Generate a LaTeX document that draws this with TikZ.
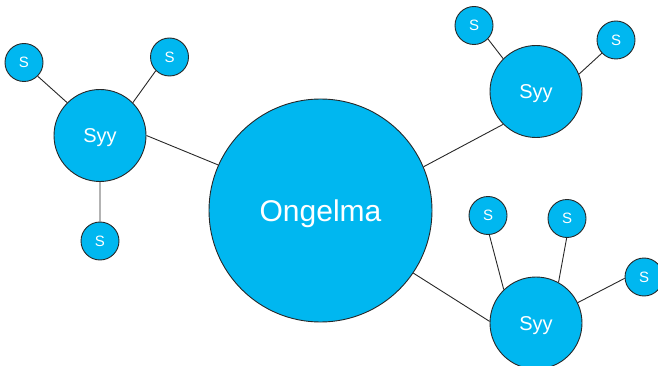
\documentclass[tikz,border=0pt]{standalone}
\usepackage{fontspec}
\setmainfont{Liberation Sans}
\definecolor{bubble}{RGB}{0,183,240}
\definecolor{edge}{RGB}{40,40,40}
\begin{document}
\begin{tikzpicture}[x=1pt,y=-1pt,
  bub/.style={circle,draw=edge,line width=0.9pt,fill=bubble,text=white,inner sep=0pt,text depth=0pt},
  big/.style={bub,minimum size=223pt,font=\fontsize{30}{30}\selectfont,text height=21.5pt},
  mid/.style={bub,minimum size=92pt,font=\fontsize{20}{20}\selectfont,text height=14.3pt},
  small/.style={bub,minimum size=38pt,font=\fontsize{15}{15}\selectfont,text height=10.7pt},
  link/.style={draw=edge,line width=0.9pt}]
\useasboundingbox (0,0) rectangle (658,366);
\node[big] (c) at (320.5,210.5) {Ongelma};
\node[mid] (l) at (100,135.5) {Syy};
\node[mid] (tr) at (536,91.5) {Syy};
\node[mid] (br) at (536,323) {Syy};
\node[small] (l1) at (24,62.5) {S};
\node[small] (l2) at (169.5,57) {S};
\node[small] (l3) at (100,241) {S};
\node[small] (t1) at (474,25.5) {S};
\node[small] (t2) at (616,40) {S};
\node[small] (b1) at (488,215.5) {S};
\node[small] (b2) at (567,218.5) {S};
\node[small] (b3) at (644,277) {S};
\path[link] (c.156.7) -- (l.-0.6)
  (c.23.5) -- (tr.225)
  (c.-34) -- (br.178.4)
  (l.135) -- (l1.-45) (l.45) -- (l2.225) (l.south) -- (l3.north)
  (tr.135) -- (t1.-44) (tr.22.5) -- (t2.223)
  (br.134) -- (b1.-86) (br.61.6) -- (b2.-91) (br.26.7) -- (b3.184);
\end{tikzpicture}
\end{document}
